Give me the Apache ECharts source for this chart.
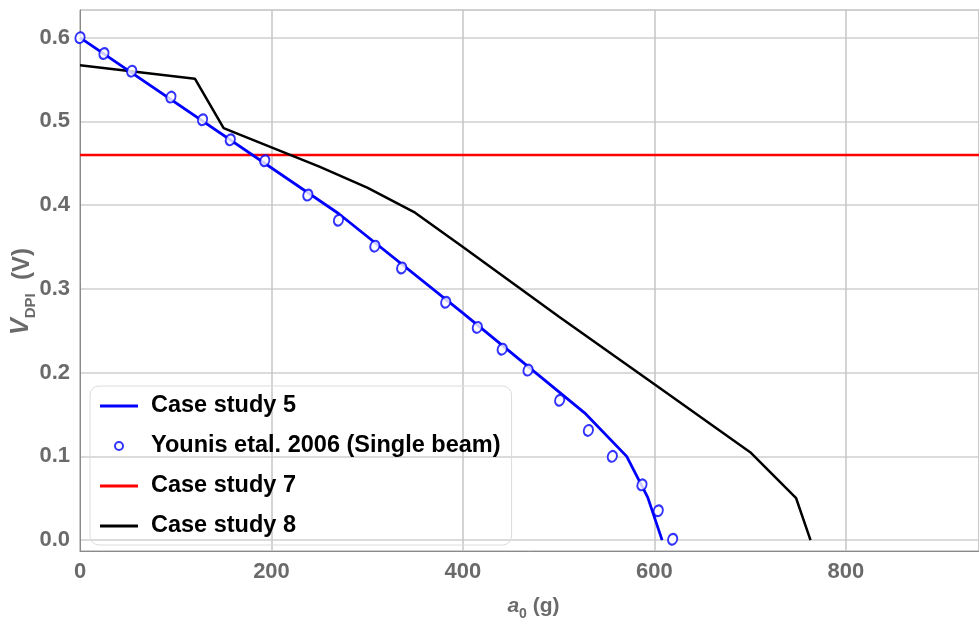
<!DOCTYPE html>
<html>
<head>
<meta charset="utf-8">
<script src="https://cdn.jsdelivr.net/npm/echarts@6/dist/echarts.min.js"></script>
<style>
html,body{margin:0;padding:0;background:#fff;}
#chart{width:979px;height:619px;}
</style>
</head>
<body>
<div id="chart"></div>
<script>
// ---- data ----
const xTicks = [0, 200, 400, 600, 800];
const yTicks = [0.0, 0.1, 0.2, 0.3, 0.4, 0.5, 0.6];

const case5X = [0, 270, 400, 527, 571, 593, 608];
const case5Y = [0.600, 0.390, 0.271, 0.152, 0.100, 0.051, 0.000];

const younisX = [0, 25, 54, 95, 128, 157, 193, 238, 270, 308, 336, 382, 415, 441, 468, 501, 531, 556, 587, 604, 619];
const younisY = [0.600, 0.581, 0.560, 0.529, 0.502, 0.478, 0.453, 0.412, 0.382, 0.351, 0.325, 0.284, 0.254, 0.228, 0.203, 0.167, 0.131, 0.100, 0.066, 0.035, 0.001];

const case7X = [0, 939];
const case7Y = [0.46, 0.46];

const case8X = [0, 120, 150, 200, 250, 300, 350, 400, 500, 600, 700, 748, 763];
const case8Y = [0.567, 0.551, 0.492, 0.469, 0.446, 0.421, 0.391, 0.350, 0.267, 0.186, 0.105, 0.050, 0.000];

const seriesNames = ['Case study 5', 'Younis etal. 2006 (Single beam)', 'Case study 7', 'Case study 8'];

const zip = (xs, ys) => xs.map((x, i) => [x, ys[i]]);

const gray = '#6a6a6a';
const fontFam = '"Liberation Sans", Arial, sans-serif';
const linePath = 'path://M0,0 L40,0 L40,3 L0,3 Z';

const xNameRich = {
  i: {color: gray, fontSize: 21, fontWeight: 'bold', fontStyle: 'italic', fontFamily: fontFam, lineHeight: 24, verticalAlign: 'bottom'},
  s: {color: gray, fontSize: 14, fontWeight: 'bold', fontFamily: fontFam, lineHeight: 24, verticalAlign: 'bottom', padding: [0, 0, -4, 0]},
  n: {color: gray, fontSize: 21, fontWeight: 'bold', fontFamily: fontFam, lineHeight: 24, verticalAlign: 'bottom'}
};
const yNameRich = {
  i: {color: gray, fontSize: 25, fontWeight: 'bold', fontStyle: 'italic', fontFamily: fontFam, lineHeight: 28, verticalAlign: 'bottom'},
  s: {color: gray, fontSize: 15, fontWeight: 'bold', fontFamily: fontFam, lineHeight: 28, verticalAlign: 'bottom', padding: [0, 0, -4, 0]},
  n: {color: gray, fontSize: 24, fontWeight: 'bold', fontFamily: fontFam, lineHeight: 28, verticalAlign: 'bottom'}
};

const chart = echarts.init(document.getElementById('chart'), null, {renderer: 'canvas'});
chart.setOption({
  animation: false,
  backgroundColor: '#fff',
  grid: {left: 80, top: 10, right: 0, bottom: 68, show: true, borderColor: '#a8a8a8', borderWidth: 1,
         containLabel: false, outerBoundsMode: 'none'},
  xAxis: {
    type: 'value', min: 0, max: 939, interval: 200,
    axisLine: {onZero: false, lineStyle: {color: '#8a8a8a', width: 1}},
    axisTick: {show: false},
    axisLabel: {
      color: gray, fontSize: 22, fontWeight: 'bold', fontFamily: fontFam, margin: 10,
      showMaxLabel: false,
      formatter: v => xTicks.includes(Math.round(v)) && Math.abs(v - Math.round(v)) < 1e-6 ? String(Math.round(v)) : ''
    },
    splitLine: {show: true, lineStyle: {color: '#c6c6c6', width: 1.5}},
    name: '{i|a}{s|0}{n| (g)}', nameLocation: 'middle', nameGap: 42, nameMoveOverlap: false,
    nameTextStyle: {rich: xNameRich, padding: [0, 0, 0, 8]}
  },
  yAxis: {
    type: 'value', min: -0.013, max: 0.633, splitNumber: 6,
    axisLine: {show: true, lineStyle: {color: '#8a8a8a', width: 1}},
    axisTick: {show: false},
    axisLabel: {
      color: gray, fontSize: 22, fontWeight: 'bold', fontFamily: fontFam, margin: 10,
      showMinLabel: false, showMaxLabel: false,
      formatter: v => {
        const r = Math.round(v * 10) / 10;
        return (Math.abs(v - r) < 1e-6 && yTicks.some(t => Math.abs(t - r) < 1e-9)) ? r.toFixed(1) : '';
      }
    },
    splitLine: {show: true, lineStyle: {color: '#cfcfcf', width: 1.5}},
    name: '{i|V}{s|DPI}{n|  (V)}', nameLocation: 'middle', nameGap: 46, nameRotate: 90, nameMoveOverlap: false,
    nameTextStyle: {rich: yNameRich, padding: [0, 22, 0, 0]}
  },
  legend: {
    orient: 'vertical', left: 90, top: 386,
    padding: [8, 11, 7, 10],
    itemGap: 16, itemWidth: 38, itemHeight: 8,
    borderColor: '#dcdcdc', borderWidth: 1, borderRadius: 9,
    backgroundColor: 'transparent',
    textStyle: {color: '#000', fontSize: 23.5, fontWeight: 'bold', fontFamily: fontFam, padding: [0, 0, 0, 8]},
    data: [
      {name: seriesNames[0], icon: linePath, itemStyle: {color: '#0000ff'}},
      {name: seriesNames[1], icon: 'emptyCircle'},
      {name: seriesNames[2], icon: linePath, itemStyle: {color: '#ff0000'}},
      {name: seriesNames[3], icon: linePath, itemStyle: {color: '#000000'}}
    ]
  },
  series: [
    {
      name: seriesNames[2], type: 'line', data: zip(case7X, case7Y), symbol: 'none',
      lineStyle: {color: '#ff0000', width: 2.5}, itemStyle: {color: '#ff0000'}, z: 2
    },
    {
      name: seriesNames[3], type: 'line', data: zip(case8X, case8Y), symbol: 'none',
      lineStyle: {color: '#000000', width: 2.5}, itemStyle: {color: '#000000'}, z: 3
    },
    {
      name: seriesNames[0], type: 'line', data: zip(case5X, case5Y), symbol: 'none',
      lineStyle: {color: '#0000ff', width: 2.8}, itemStyle: {color: '#0000ff'}, z: 4
    },
    {
      name: seriesNames[1], type: 'scatter', data: zip(younisX, younisY),
      symbol: 'emptyCircle', symbolSize: [9, 11], symbolRotate: -20, clip: false,
      itemStyle: {color: '#0000ff', borderColor: '#0000ff', borderWidth: 1.6}, z: 5
    }
  ]
});
</script>
</body>
</html>
